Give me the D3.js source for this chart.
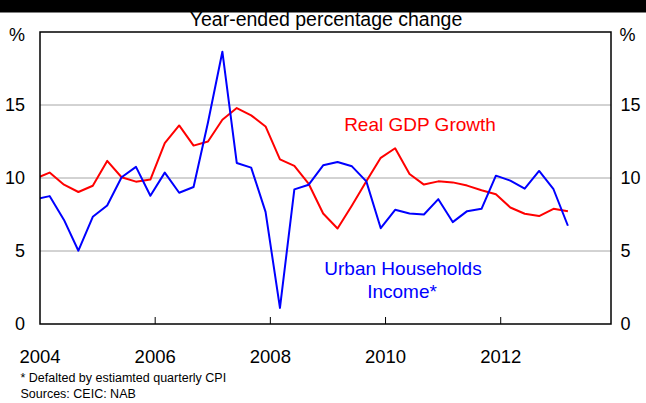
<!DOCTYPE html>
<html>
<head>
<meta charset="utf-8">
<script src="https://cdn.jsdelivr.net/npm/d3@7"></script>
<style>
  html, body { margin: 0; padding: 0; background: #fff; }
  svg { display: block; font-family: "Liberation Sans", Arial, sans-serif; }
</style>
</head>
<body>
<svg id="chart" width="646" height="403"></svg>
<script>
// Quarterly observations, Dec-2003 through Mar-2013 (decimal year of the quarter's last month)
const quarters = [
  "2003-12","2004-03","2004-06","2004-09","2004-12","2005-03","2005-06","2005-09","2005-12",
  "2006-03","2006-06","2006-09","2006-12","2007-03","2007-06","2007-09","2007-12",
  "2008-03","2008-06","2008-09","2008-12","2009-03","2009-06","2009-09","2009-12",
  "2010-03","2010-06","2010-09","2010-12","2011-03","2011-06","2011-09","2011-12",
  "2012-03","2012-06","2012-09","2012-12","2013-03"
];

// Real GDP growth, year-ended %
const realGdp = [
  9.95, 10.37, 9.54, 9.04, 9.47, 11.17, 10.05, 9.75, 9.89,
  12.39, 13.6, 12.22, 12.5, 13.99, 14.79, 14.29, 13.53,
  11.28, 10.83, 9.59, 7.57, 6.54, 8.12, 9.77, 11.38,
  12.04, 10.27, 9.55, 9.77, 9.70, 9.48, 9.16, 8.89,
  7.98, 7.55, 7.39, 7.89, 7.73
];

// Urban households real income, year-ended %
const urbanIncome = [
  8.55, 8.76, 7.13, 5.02, 7.34, 8.12, 10.05, 10.76, 8.78,
  10.37, 8.99, 9.38, 13.8, 18.65, 11.03, 10.71, 7.68,
  1.1, 9.22, 9.54, 10.87, 11.1, 10.8, 9.77, 6.56,
  7.82, 7.57, 7.5, 8.55, 6.98, 7.73, 7.89, 10.16,
  9.82, 9.27, 10.48, 9.23, 6.73
];

const yTicks = [0, 5, 10, 15];
const yGrid = [5, 10, 15];
const xTickYears = [2006, 2008, 2010, 2012];
const xLabelYears = [2004, 2006, 2008, 2010, 2012];

const W = 646, H = 403;
const plot = { left: 40, top: 32, right: 611, bottom: 324 };

const svg = d3.select("#chart");

const toYear = q => {
  const [y, m] = q.split("-").map(Number);
  return y + (m - 1) / 12;
};

const x = d3.scaleLinear().domain([2004, 2013.915]).range([plot.left, plot.right]);
const y = d3.scaleLinear().domain([0, 20]).range([plot.bottom, plot.top]);

// Title (partly covered by the dark band drawn after it)
svg.append("text")
  .attr("x", 326).attr("y", 25.5)
  .attr("text-anchor", "middle")
  .attr("font-size", 19.5)
  .attr("fill", "#000")
  .text("Year-ended percentage change");

// Dark band across the top
svg.append("rect").attr("x", 0).attr("y", 0).attr("width", W).attr("height", 12.5).attr("fill", "#000");

// Horizontal gridlines
svg.append("g")
  .selectAll("line")
  .data(yGrid)
  .join("line")
  .attr("x1", plot.left).attr("x2", plot.right)
  .attr("y1", d => y(d)).attr("y2", d => y(d))
  .attr("stroke", "#a6a6a6").attr("stroke-width", 1);

// Clip for the series
svg.append("clipPath").attr("id", "plotClip")
  .append("rect")
  .attr("x", plot.left).attr("y", plot.top)
  .attr("width", plot.right - plot.left).attr("height", plot.bottom - plot.top);

const line = d3.line()
  .x((d, i) => x(toYear(quarters[i])))
  .y(d => y(d));

const series = svg.append("g").attr("clip-path", "url(#plotClip)");
series.append("path")
  .datum(realGdp)
  .attr("d", line)
  .attr("fill", "none").attr("stroke", "#ff0000").attr("stroke-width", 2)
  .attr("stroke-linejoin", "round");
series.append("path")
  .datum(urbanIncome)
  .attr("d", line)
  .attr("fill", "none").attr("stroke", "#0000ff").attr("stroke-width", 2)
  .attr("stroke-linejoin", "round");

// Inner tick marks along the bottom
svg.append("g")
  .selectAll("line")
  .data(xTickYears)
  .join("line")
  .attr("x1", d => x(d)).attr("x2", d => x(d))
  .attr("y1", plot.bottom).attr("y2", plot.bottom - 7)
  .attr("stroke", "#000").attr("stroke-width", 1);

// Plot frame
svg.append("rect")
  .attr("x", plot.left).attr("y", plot.top)
  .attr("width", plot.right - plot.left).attr("height", plot.bottom - plot.top)
  .attr("fill", "none").attr("stroke", "#000").attr("stroke-width", 1.5);

// Left and right value labels
const yLabelFont = 18;
svg.append("g")
  .selectAll("text")
  .data(yTicks)
  .join("text")
  .attr("x", 25).attr("y", d => y(d))
  .attr("dy", "0.36em")
  .attr("text-anchor", "end")
  .attr("font-size", yLabelFont)
  .text(d => d);
svg.append("g")
  .selectAll("text")
  .data(yTicks)
  .join("text")
  .attr("x", 620.5).attr("y", d => y(d))
  .attr("dy", "0.36em")
  .attr("text-anchor", "start")
  .attr("font-size", yLabelFont)
  .text(d => d);

svg.append("text").attr("x", 17).attr("y", 35).attr("dy", "0.36em")
  .attr("text-anchor", "middle").attr("font-size", yLabelFont).text("%");
svg.append("text").attr("x", 627.5).attr("y", 35).attr("dy", "0.36em")
  .attr("text-anchor", "middle").attr("font-size", yLabelFont).text("%");

// Year labels below the frame
svg.append("g")
  .selectAll("text")
  .data(xLabelYears)
  .join("text")
  .attr("x", d => x(d)).attr("y", 362.5)
  .attr("text-anchor", "middle")
  .attr("font-size", 18.5)
  .text(d => d);

// Series labels
svg.append("text")
  .attr("x", 420).attr("y", 131)
  .attr("text-anchor", "middle")
  .attr("font-size", 19)
  .attr("fill", "#ff0000")
  .text("Real GDP Growth");

const ul = svg.append("text")
  .attr("text-anchor", "middle")
  .attr("font-size", 19)
  .attr("fill", "#0000ff");
ul.append("tspan").attr("x", 403).attr("y", 275).text("Urban Households");
ul.append("tspan").attr("x", 402).attr("y", 298).text("Income*");

// Footnotes
svg.append("text")
  .attr("x", 20.5).attr("y", 381.5)
  .attr("font-size", 12.5)
  .text("* Defalted by estiamted quarterly CPI");
svg.append("text")
  .attr("x", 20.5).attr("y", 398)
  .attr("font-size", 12.5)
  .text("Sources: CEIC: NAB");
</script>
</body>
</html>
